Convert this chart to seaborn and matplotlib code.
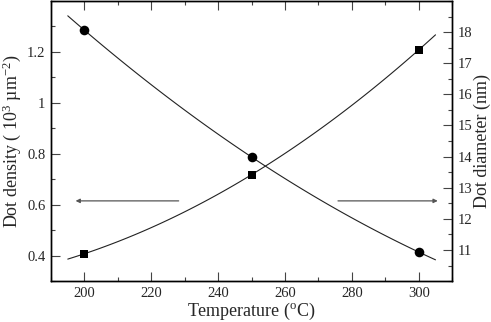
import numpy as np
import pandas as pd
import seaborn as sns
import matplotlib.pyplot as plt
from matplotlib.ticker import MultipleLocator

temperature = [200, 250, 300]
dot_density = [1.285, 0.787, 0.414]
dot_diameter = [10.88, 13.42, 17.43]

df = pd.DataFrame({"temp": temperature, "density": dot_density, "diameter": dot_diameter})

sns.set_style("ticks")
plt.rcParams["font.family"] = ["Liberation Serif", "DejaVu Serif"]
plt.rcParams["mathtext.fontset"] = "custom"
plt.rcParams["mathtext.rm"] = "Liberation Serif"
plt.rcParams["mathtext.default"] = "regular"

fig = plt.figure(figsize=(4.91, 3.22), dpi=100)
ax = fig.add_axes([0.104, 0.127, 0.817, 0.870])
ax2 = ax.twinx()

# fit curves span a bit past the data points
for a in (ax, ax2):
	a.set_xlim(195, 305)

line_kw = dict(color="#222222", lw=0.8)
sns.regplot(data=df, x="temp", y="density", order=2, ci=None, truncate=False,
	scatter=False, line_kws=line_kw, ax=ax)
sns.regplot(data=df, x="temp", y="diameter", order=2, ci=None, truncate=False,
	scatter=False, line_kws=line_kw, ax=ax2)
sns.scatterplot(data=df, x="temp", y="density", marker="o", s=48, color="black",
	edgecolor="black", linewidth=0, ax=ax, zorder=5)
sns.scatterplot(data=df, x="temp", y="diameter", marker="s", s=40, color="black",
	edgecolor="black", linewidth=0, ax=ax2, zorder=5)

ax.set_xlim(190, 310)
ax2.set_xlim(190, 310)
ax.set_ylim(0.3, 1.4)
ax2.set_ylim(10, 19)

ax.annotate("", xy=(196.5, 0.615), xytext=(229, 0.615),
	arrowprops=dict(arrowstyle="-|>", color="#555555", lw=0.9, mutation_scale=6))
ax.annotate("", xy=(306.5, 0.615), xytext=(275, 0.615),
	arrowprops=dict(arrowstyle="-|>", color="#555555", lw=0.9, mutation_scale=6))

ax.xaxis.set_major_locator(MultipleLocator(20))
ax.xaxis.set_minor_locator(MultipleLocator(10))
ax.yaxis.set_minor_locator(MultipleLocator(0.1))
ax.set_yticks([0.4, 0.6, 0.8, 1.0, 1.2])
ax.set_yticklabels(["0.4", "0.6", "0.8", "1", "1.2"])
ax2.yaxis.set_minor_locator(MultipleLocator(0.5))
ax2.set_yticks(range(11, 19))

ax.tick_params(axis="x", which="both", top=True)
for a in (ax, ax2):
	a.tick_params(which="both", direction="in", labelsize=10.5, pad=4)
	a.tick_params(which="major", length=6.5, width=0.8, color="#444444")
	a.tick_params(which="minor", length=3, width=0.8, color="#444444")
	for s in a.spines.values():
		s.set_visible(True)
		s.set_linewidth(1.0)
		s.set_color("black")

ax.set_xlabel("Temperature ($^{o}$C)", fontsize=13, labelpad=1)
ax.set_ylabel("Dot density ( 10$^{3}$ µm$^{-2}$)", fontsize=13, labelpad=3)
ax2.set_ylabel("Dot diameter (nm)", fontsize=13, labelpad=1)

fig.savefig("out.png", dpi=100)
